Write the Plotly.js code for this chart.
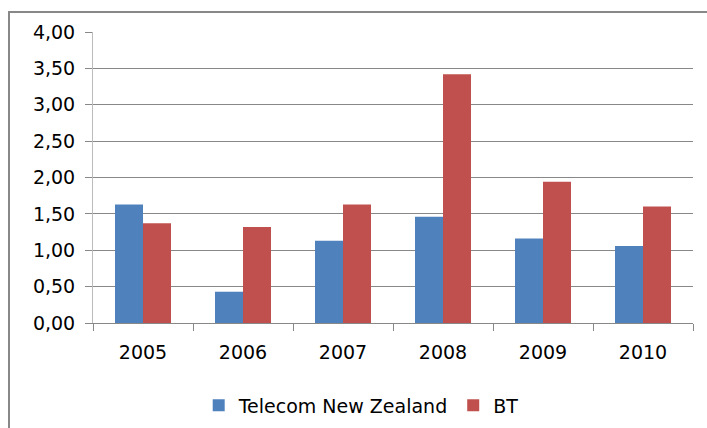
<!DOCTYPE html>
<html>
<head>
<meta charset="utf-8">
<script src="https://cdn.plot.ly/plotly-3.0.1.min.js"></script>
<style>html,body{margin:0;padding:0;background:#fff;}#chart{width:707px;height:428px;}</style>
</head>
<body>
<div id="chart"></div>
<script>
var years = ["2005", "2006", "2007", "2008", "2009", "2010"];
var telecomNZ = [1.63, 0.43, 1.13, 1.46, 1.16, 1.06];
var bt = [1.37, 1.32, 1.63, 3.42, 1.94, 1.60];
var yTicks = [0, 0.5, 1, 1.5, 2, 2.5, 3, 3.5, 4];

var traces = [
  {type: "bar", name: "Telecom New Zealand", x: years, y: telecomNZ, marker: {color: "#4F81BD"}},
  {type: "bar", name: "BT", x: years, y: bt, marker: {color: "#C0504D"}}
];

var layout = {
  width: 707, height: 428,
  margin: {l: 93, r: 14, t: 32, b: 105, autoexpand: false},
  paper_bgcolor: "#fff", plot_bgcolor: "#fff",
  separators: ", ",
  barmode: "group", bargap: 0.44, bargroupgap: 0,
  font: {family: "DejaVu Sans, Verdana, sans-serif", size: 19, color: "#000"},
  showlegend: true,
  legend: {orientation: "h", x: 0.447, xanchor: "center", y: -0.283, yanchor: "middle",
           font: {size: 19}, itemwidth: 30, tracegroupgap: 0},
  xaxis: {type: "category", showline: true, linecolor: "#888", linewidth: 1,
          ticks: "outside", tickson: "boundaries", ticklen: 7, tickcolor: "#888",
          showgrid: false, tickfont: {size: 19}, ticklabelstandoff: 12},
  yaxis: {range: [0, 4], tickvals: yTicks, tickformat: ".2f", showline: true, linecolor: "#bbb",
          ticks: "outside", ticklen: 7, tickcolor: "#888", gridcolor: "#888", gridwidth: 1,
          zeroline: false, tickfont: {size: 19}, ticklabelstandoff: 6},
  shapes: [{type: "rect", xref: "paper", yref: "paper", x0: -0.14, x1: 1.2, y0: -0.6, y1: 1.069,
            line: {color: "#888", width: 2}, fillcolor: "rgba(0,0,0,0)", layer: "below"}]
};

Plotly.newPlot("chart", traces, layout, {displayModeBar: false, staticPlot: true});
</script>
</body>
</html>
